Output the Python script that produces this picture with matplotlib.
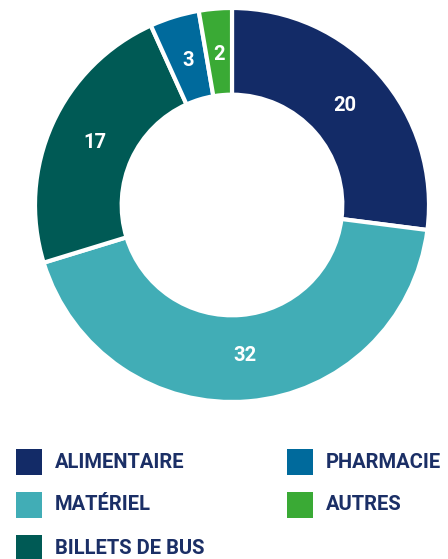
import matplotlib
matplotlib.use("Agg")
import matplotlib.pyplot as plt
from matplotlib.patches import Rectangle

categories = ["ALIMENTAIRE", "MATÉRIEL", "BILLETS DE BUS", "PHARMACIE", "AUTRES"]
values = [20, 32, 17, 3, 2]
colors = ["#132b67", "#41adb6", "#005a55", "#006a9c", "#3aaa35"]
text_color = "#1b2f66"

W, H = 448, 559
fig = plt.figure(figsize=(W / 100, H / 100), dpi=100)
fig.patch.set_facecolor("white")

FONT = ["Roboto", "DejaVu Sans"]

cx, cy, R = 232, 205, 197
ax = fig.add_axes([(cx - R) / W, (H - cy - R) / H, 2 * R / W, 2 * R / H])
wedges, texts = ax.pie(
    values, colors=colors, startangle=90, counterclock=False, radius=1,
    labels=[str(v) for v in values], labeldistance=0.765,
    wedgeprops=dict(width=0.44, edgecolor="white", linewidth=3),
    textprops=dict(color="white", fontsize=14.5, fontweight="bold", family=FONT,
                   ha="center", va="center"),
)
ax.set_xlim(-1, 1)
ax.set_ylim(-1, 1)
ax.set_aspect("equal")
ax.axis("off")

# legend
legend_pos = [(16, 462), (16, 505), (16, 548), (287, 462), (287, 505)]
for (x, y), cat, col in zip(legend_pos, categories, colors):
    fig.patches.append(Rectangle((x / W, (H - y - 13) / H), 26 / W, 26 / H,
                                 transform=fig.transFigure, facecolor=col, edgecolor="none"))
    fig.text((x + 39) / W, (H - y) / H, cat, color=text_color, fontsize=14.5,
             fontweight="bold", family=FONT, ha="left", va="center")

fig.savefig("out.png", dpi=100, facecolor="white")
